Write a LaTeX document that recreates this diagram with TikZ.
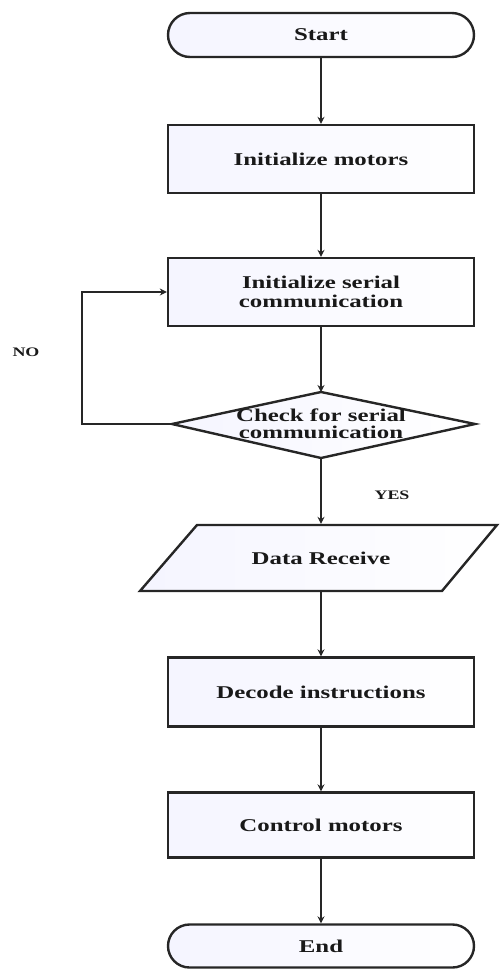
\documentclass[tikz,border=0pt]{standalone}
\usepackage{fontspec}
\setmainfont{Liberation Serif}
\usetikzlibrary{arrows.meta,shapes.misc}
\newcommand{\hs}[1]{\scalebox{1.38}[1]{#1}}
\begin{document}
\begin{tikzpicture}[x=1pt,y=-1pt,
  line width=2.4pt,
  shade/.style={left color=blue!4, right color=white},
  box/.style={draw=black!85, shade, minimum width=306pt, inner sep=0pt},
  term/.style={draw=black!85, shade, rounded rectangle, minimum width=306pt, minimum height=44pt, inner sep=0pt},
  lbl/.style={font=\bfseries\fontsize{18}{19}\selectfont, align=center, text=black!90},
  small/.style={font=\bfseries\fontsize{13}{14}\selectfont, text=black!90},
  arr/.style={draw=black!85, -{Stealth[length=7pt,width=7pt]}}]
\useasboundingbox (0,0) rectangle (499,970);
% nodes
\node[term, lbl] (start) at (321,35) {\hs{Start}};
\node[box, lbl, minimum height=68pt] (m1) at (321,159) {\hs{Initialize motors}};
\node[box, lbl, minimum height=68pt] (m2) at (321,292) {\hs{Initialize serial}\\\hs{communication}};
% decision
\coordinate (dw) at (172,424);
\coordinate (dn) at (321,392);
\coordinate (de) at (475,424);
\coordinate (ds) at (321,458);
\draw[draw=black!85, shade] (dw) -- (dn) -- (de) -- (ds) -- cycle;
\node[lbl, font=\bfseries\fontsize{18}{17}\selectfont] (dt) at (321,424) {\hs{Check for serial}\\\hs{communication}};
% data receive
\coordinate (p1) at (197,525);
\coordinate (p2) at (497,525);
\coordinate (p3) at (442,591);
\coordinate (p4) at (140,591);
\draw[draw=black!85, shade] (p1) -- (p2) -- (p3) -- (p4) -- cycle;
\node[lbl, minimum width=300pt, minimum height=66pt, inner sep=0pt] (dr) at (321,558) {\hs{Data Receive}};
\node[box, lbl, minimum height=69pt] (dec) at (321,692) {\hs{Decode instructions}};
\node[box, lbl, minimum height=65pt] (ctl) at (321,825) {\hs{Control motors}};
\node[term, lbl, minimum height=43pt] (end) at (321,946) {\hs{End}};
% labels
\node[small] (no) at (26,352) {\hs{NO}};
\node[small] (yes) at (392,495) {\hs{YES}};
% connectors
\coordinate (lb) at (82,424);
\coordinate (lt) at (82,292);
\draw[arr] (start.south) -- (m1.north);
\draw[arr] (m1.south) -- (m2.north);
\draw[arr] (m2.south) -- (dn);
\draw[arr] (ds) -- (dr.north);
\draw[arr] (dr.south) -- (dec.north);
\draw[arr] (dec.south) -- (ctl.north);
\draw[arr] (ctl.south) -- (end.north);
\draw[arr] (dw) -- (lb) -- (lt) -- (m2.west);
\end{tikzpicture}
\end{document}
